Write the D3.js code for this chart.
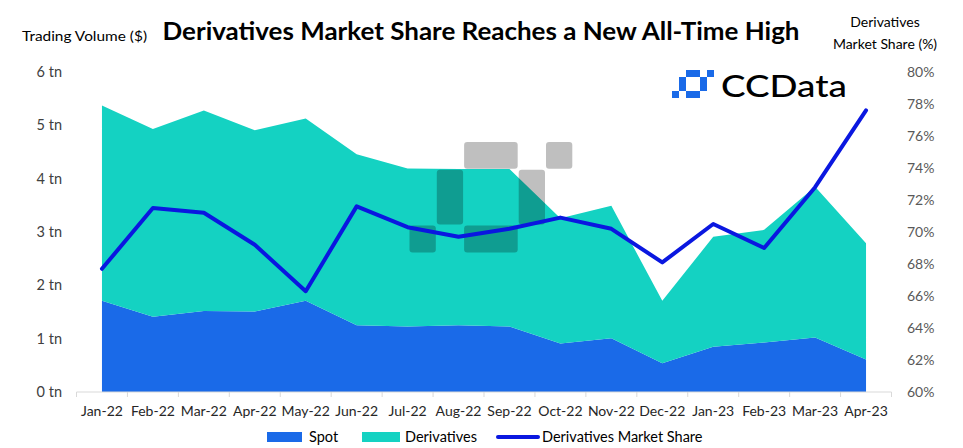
<!DOCTYPE html>
<html>
<head>
<meta charset="utf-8">
<script src="https://cdn.jsdelivr.net/npm/d3@7/dist/d3.min.js"></script>
<style>
  html, body { margin: 0; padding: 0; background: #fff; }
  svg { display: block; }
  text { font-family: Lato, "Open Sans", sans-serif; }
</style>
</head>
<body>
<svg id="chart" width="963" height="448"></svg>
<script>
// ---------- data ----------
const months = ["Jan-22","Feb-22","Mar-22","Apr-22","May-22","Jun-22","Jul-22","Aug-22","Sep-22","Oct-22","Nov-22","Dec-22","Jan-23","Feb-23","Mar-23","Apr-23"];
const spot = [1.71, 1.41, 1.52, 1.51, 1.71, 1.25, 1.23, 1.25, 1.23, 0.91, 1.01, 0.54, 0.85, 0.93, 1.02, 0.61];
const derivatives = [3.66, 3.52, 3.76, 3.40, 3.42, 3.21, 2.96, 2.93, 2.95, 2.35, 2.48, 1.17, 2.06, 2.11, 2.83, 2.18];
const marketShare = [67.7, 71.5, 71.2, 69.2, 66.3, 71.6, 70.3, 69.7, 70.2, 70.9, 70.2, 68.1, 70.5, 69.0, 72.8, 77.6];
const leftTicks = [0, 1, 2, 3, 4, 5, 6];
const rightTicks = [60, 62, 64, 66, 68, 70, 72, 74, 76, 78, 80];

// logo shape cells (col, row, colspan, rowspan)
const logoCells = [[2,0,2,1],[5,0,1,1],[1,1,1,2],[4,1,1,2],[0,3,1,1],[2,3,2,1]];

const colors = { spot: "#1a6ae8", deriv: "#14d2c2", line: "#0a17e0" };

(function () {
const svg = d3.select("#chart");
const pLeft = 76.5, pRight = 891.5, pTop = 72, pBottom = 392;

const x = d3.scaleBand().domain(months).range([pLeft, pRight]);
const xc = d => x(d) + x.bandwidth() / 2;
const yL = d3.scaleLinear().domain([0, 6]).range([pBottom, pTop]);
const yR = d3.scaleLinear().domain([60, 80]).range([pBottom, pTop]);

const rows = months.map((m, i) => ({ month: m, spot: spot[i], derivatives: derivatives[i], share: marketShare[i] }));
const stack = d3.stack().keys(["spot", "derivatives"])(rows);

const area = d3.area()
  .x(d => xc(d.data.month))
  .y0(d => yL(d[0]))
  .y1(d => yL(d[1]));

svg.append("g").selectAll("path").data(stack).join("path")
  .attr("d", area)
  .attr("fill", d => d.key === "spot" ? colors.spot : colors.deriv);

// watermark
const wm = svg.append("g").attr("transform", "translate(409,142)");
const wc = 27.3;
wm.selectAll("rect").data(logoCells).join("rect")
  .attr("x", d => d[0] * wc + 0.5)
  .attr("y", d => d[1] * wc * 1.02)
  .attr("width", d => d[2] * wc - 1)
  .attr("height", d => d[3] * wc * 1.02 - 1)
  .attr("rx", 3)
  .attr("fill", "#000").attr("opacity", 0.25);

// line
const line = d3.line().x(d => xc(d.month)).y(d => yR(d.share));
svg.append("path").datum(rows)
  .attr("d", line)
  .attr("fill", "none")
  .attr("stroke", colors.line)
  .attr("stroke-width", 4)
  .attr("stroke-linejoin", "round")
  .attr("stroke-linecap", "round");

// x axis
const xg = svg.append("g").attr("transform", `translate(0,${pBottom})`);
xg.append("line").attr("x1", pLeft).attr("x2", pRight).attr("stroke", "#d9d9d9").attr("stroke-width", 1);
const edges = months.map(m => x(m)).concat([pRight]);
xg.selectAll("line.tk").data(edges).join("line").attr("class", "tk")
  .attr("x1", d => d).attr("x2", d => d).attr("y1", 0).attr("y2", 5)
  .attr("stroke", "#d9d9d9");
xg.selectAll("text").data(months).join("text")
  .attr("x", d => xc(d)).attr("y", 24)
  .attr("text-anchor", "middle")
  .attr("font-size", 14).attr("fill", "#262626")
  .text(d => d);

// left axis labels
svg.append("g").selectAll("text").data(leftTicks).join("text")
  .attr("x", 62).attr("y", d => yL(d) + 5)
  .attr("text-anchor", "end")
  .attr("font-size", 14.5).attr("fill", "#404040")
  .text(d => d + " tn");

// right axis labels
svg.append("g").selectAll("text").data(rightTicks).join("text")
  .attr("x", 907).attr("y", d => yR(d) + 5)
  .attr("text-anchor", "start")
  .attr("font-size", 14).attr("fill", "#595959")
  .text(d => d + "%");

// titles
svg.append("text").attr("x", 481).attr("y", 40)
  .attr("text-anchor", "middle").attr("font-size", 24).attr("font-weight", 700)
  .attr("fill", "#000")
  .attr("textLength", 637).attr("lengthAdjust", "spacingAndGlyphs")
  .text("Derivatives Market Share Reaches a New All-Time High");
svg.append("text").attr("x", 22).attr("y", 41)
  .attr("font-size", 14).attr("fill", "#000")
  .attr("textLength", 125).attr("lengthAdjust", "spacingAndGlyphs")
  .text("Trading Volume ($)");
svg.append("text").attr("x", 885).attr("y", 27)
  .attr("text-anchor", "middle").attr("font-size", 14).attr("fill", "#000")
  .text("Derivatives");
svg.append("text").attr("x", 885).attr("y", 49)
  .attr("text-anchor", "middle").attr("font-size", 14).attr("fill", "#000")
  .text("Market Share (%)");

// CCData logo
const logo = svg.append("g").attr("transform", "translate(672,70)");
const lc = 7;
logo.selectAll("rect").data(logoCells).join("rect")
  .attr("x", d => d[0] * lc)
  .attr("y", d => d[1] * lc)
  .attr("width", d => d[2] * lc)
  .attr("height", d => d[3] * lc)
  .attr("fill", colors.spot);
svg.append("text").attr("x", 721).attr("y", 97)
  .attr("font-size", 31).attr("font-weight", 500)
  .attr("font-family", "Inter, Lato, sans-serif")
  .attr("fill", "#000")
  .attr("textLength", 126).attr("lengthAdjust", "spacingAndGlyphs")
  .text("CCData");

// legend
const lg = svg.append("g");
lg.append("rect").attr("x", 267).attr("y", 432).attr("width", 35).attr("height", 10).attr("fill", colors.spot);
lg.append("text").attr("x", 309).attr("y", 442).attr("font-size", 14.5).attr("fill", "#000").text("Spot");
lg.append("rect").attr("x", 362).attr("y", 432).attr("width", 38).attr("height", 10).attr("fill", colors.deriv);
lg.append("text").attr("x", 405).attr("y", 442).attr("font-size", 14.5).attr("fill", "#000").text("Derivatives");
lg.append("line").attr("x1", 498).attr("x2", 538).attr("y1", 437).attr("y2", 437)
  .attr("stroke", colors.line).attr("stroke-width", 4).attr("stroke-linecap", "round");
lg.append("text").attr("x", 542).attr("y", 442).attr("font-size", 14.5).attr("fill", "#000").text("Derivatives Market Share");
})();
</script>
</body>
</html>
